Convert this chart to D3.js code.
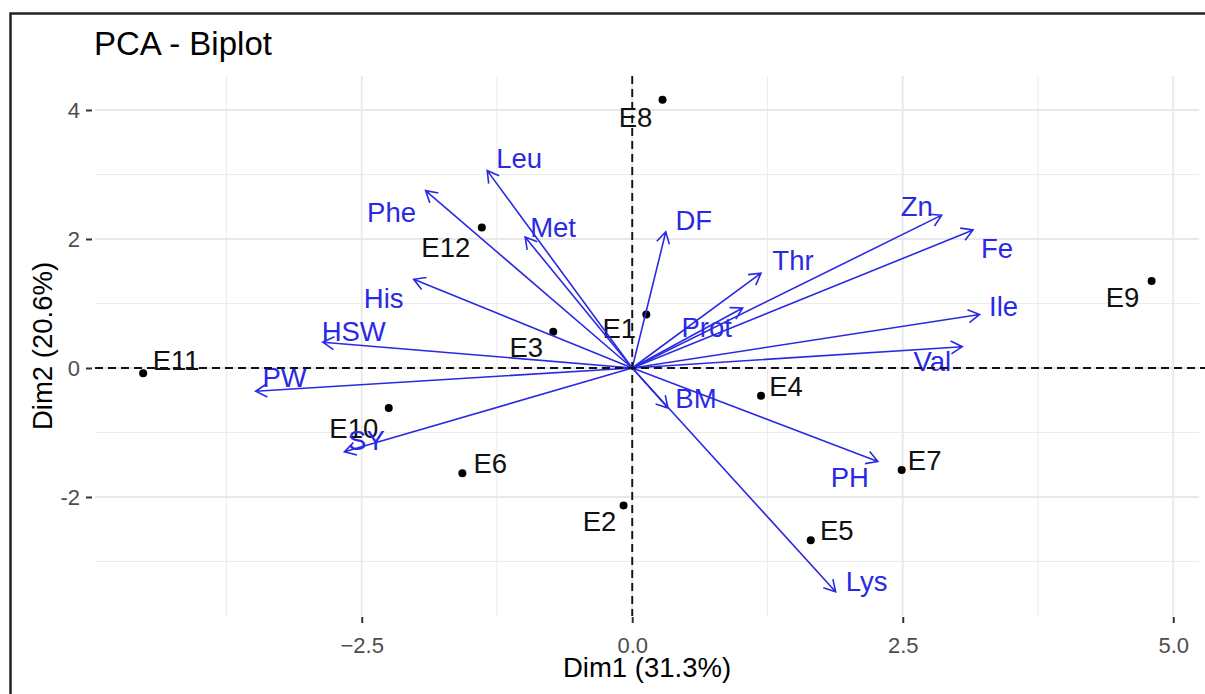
<!DOCTYPE html>
<html>
<head>
<meta charset="utf-8">
<script src="https://cdn.jsdelivr.net/npm/d3@7"></script>
<style>
	body { margin: 0; background: #fff; }
	text { font-family: "Liberation Sans", Arial, sans-serif; }
</style>
</head>
<body>
<svg id="chart" width="1205" height="694"></svg>
<script>
"use strict";

// Individuals (coordinates on Dim1 / Dim2)
var indNames = ["E1", "E2", "E3", "E4", "E5", "E6", "E7", "E8", "E9", "E10", "E11", "E12"];
var indDim1 = [0.13, -0.08, -0.73, 1.19, 1.65, -1.57, 2.49, 0.28, 4.80, -2.25, -4.52, -1.39];
var indDim2 = [0.83, -2.13, 0.56, -0.43, -2.67, -1.63, -1.58, 4.16, 1.35, -0.62, -0.08, 2.18];

// Variables (arrow tips on Dim1 / Dim2)
var varNames = ["Leu", "Phe", "Met", "His", "HSW", "PW", "SY", "DF", "Thr", "Zn", "Fe", "Ile", "Prot", "Val", "BM", "PH", "Lys"];
var varDim1 = [-1.34, -1.91, -0.99, -2.02, -2.86, -3.48, -2.66, 0.31, 1.19, 2.86, 3.15, 3.21, 1.02, 3.05, 0.33, 2.27, 1.88];
var varDim2 = [3.06, 2.75, 2.03, 1.375, 0.40, -0.36, -1.30, 2.11, 1.47, 2.37, 2.14, 0.83, 0.93, 0.33, -0.62, -1.45, -3.47];

var xMajor = [-2.5, 0, 2.5, 5];
var xMinor = [-3.75, -1.25, 1.25, 3.75];
var yMajor = [-2, 0, 2, 4];
var yMinor = [-3, -1, 1, 3];

var titleStr = "PCA - Biplot";
var xTitle = "Dim1 (31.3%)";
var yTitle = "Dim2 (20.6%)";

// repelled label offsets, in pixels from the mark
var indNudge = {
	E1: [-27, 14], E2: [-24, 16], E3: [-27, 15], E4: [25, -10], E5: [26, -10], E6: [28, -10],
	E7: [23, -10], E8: [-27, 17], E9: [-29, 16], E10: [-35, 20], E11: [33, -13], E12: [-36, 20]
};
var varNudge = {
	Leu: [32, -13], Phe: [-34, 21], Met: [28, -10], His: [-30, 19], HSW: [31, -11], PW: [29, -14],
	SY: [22, -12], DF: [28, -12], Thr: [32, -13], Zn: [-25, -9], Fe: [24, 18], Ile: [24, -8],
	Prot: [-36, 19], Val: [-30, 14], BM: [28, -10], PH: [-28, 16], Lys: [31, -11]
};

var panel = { left: 95, top: 76, right: 1199, bottom: 616 };
var blue = "#2a2ae4";

var svg = d3.select("#chart");

svg.append("rect").attr("width", 1205).attr("height", 694).attr("fill", "#fff");

// outer frame (cropped on the right / bottom in the original)
svg.append("rect")
	.attr("x", 10.5).attr("y", 13.5)
	.attr("width", 1300).attr("height", 800)
	.attr("fill", "none").attr("stroke", "#222").attr("stroke-width", 2.5);

var x = d3.scaleLinear().domain([-4.965, 5.238]).range([panel.left, panel.right]);
var y = d3.scaleLinear().domain([-3.845, 4.527]).range([panel.bottom, panel.top]);

// grid
var grid = svg.append("g").attr("class", "grid");
grid.selectAll(".xminor").data(xMinor).enter().append("line")
	.attr("x1", x).attr("x2", x).attr("y1", panel.top).attr("y2", panel.bottom)
	.attr("stroke", "#ececec").attr("stroke-width", 1.1);
grid.selectAll(".yminor").data(yMinor).enter().append("line")
	.attr("y1", y).attr("y2", y).attr("x1", panel.left).attr("x2", panel.right)
	.attr("stroke", "#ececec").attr("stroke-width", 1.1);
grid.selectAll(".xmajor").data(xMajor).enter().append("line")
	.attr("x1", x).attr("x2", x).attr("y1", panel.top).attr("y2", panel.bottom)
	.attr("stroke", "#e8e8e8").attr("stroke-width", 1.8);
grid.selectAll(".ymajor").data(yMajor).enter().append("line")
	.attr("y1", y).attr("y2", y).attr("x1", panel.left).attr("x2", panel.right)
	.attr("stroke", "#e8e8e8").attr("stroke-width", 1.8);

// axes: ticks + labels, drawn with d3.axis then restyled
var xAxis = d3.axisBottom(x).tickValues(xMajor).tickSize(6).tickPadding(14)
	.tickFormat(d3.format(".1f"));
var yAxis = d3.axisLeft(y).tickValues(yMajor).tickSize(6).tickPadding(6)
	.tickFormat(function(d) { return d < 0 ? "-" + Math.abs(d) : d; });

var gx = svg.append("g").attr("transform", "translate(0," + (panel.bottom + 1) + ")").call(xAxis);
var gy = svg.append("g").attr("transform", "translate(" + (panel.left - 3) + ",0)").call(yAxis);

[gx, gy].forEach(function(g) {
	g.select(".domain").remove();
	g.selectAll(".tick line").attr("stroke", "#333").attr("stroke-width", 2);
	g.selectAll(".tick text").attr("fill", "#4d4d4d").attr("font-size", 22)
		.style("font-family", '"Liberation Sans", Arial, sans-serif');
});

// individuals
var inds = indNames.map(function(n, i) { return { name: n, d1: indDim1[i], d2: indDim2[i] }; });

svg.append("g").selectAll("circle").data(inds).enter().append("circle")
	.attr("cx", function(d) { return x(d.d1); })
	.attr("cy", function(d) { return y(d.d2); })
	.attr("r", 4).attr("fill", "#000");

svg.append("g").selectAll("text").data(inds).enter().append("text")
	.attr("x", function(d) { return x(d.d1) + indNudge[d.name][0]; })
	.attr("y", function(d) { return y(d.d2) + indNudge[d.name][1]; })
	.attr("dy", "0.36em").attr("text-anchor", "middle")
	.attr("font-size", 27.5).attr("fill", "#111")
	.text(function(d) { return d.name; });

// variables
var vars = varNames.map(function(n, i) { return { name: n, d1: varDim1[i], d2: varDim2[i] }; });
var ox = x(0), oy = y(0);
var headLen = 13, headAng = Math.PI / 6;

var arrows = svg.append("g").attr("class", "arrows")
	.attr("stroke", blue).attr("stroke-width", 1.6).attr("fill", "none");

arrows.selectAll("path").data(vars).enter().append("path")
	.attr("d", function(d) {
		var tx = x(d.d1), ty = y(d.d2);
		var a = Math.atan2(ty - oy, tx - ox);
		var p = d3.path();
		p.moveTo(ox, oy);
		p.lineTo(tx, ty);
		p.moveTo(tx - headLen * Math.cos(a - headAng), ty - headLen * Math.sin(a - headAng));
		p.lineTo(tx, ty);
		p.lineTo(tx - headLen * Math.cos(a + headAng), ty - headLen * Math.sin(a + headAng));
		return p.toString();
	});

svg.append("g").selectAll("text").data(vars).enter().append("text")
	.attr("x", function(d) { return x(d.d1) + varNudge[d.name][0]; })
	.attr("y", function(d) { return y(d.d2) + varNudge[d.name][1]; })
	.attr("dy", "0.36em").attr("text-anchor", "middle")
	.attr("font-size", 27.5).attr("fill", blue)
	.text(function(d) { return d.name; });

// dashed reference lines on top
svg.append("line")
	.attr("x1", panel.left).attr("x2", 1205).attr("y1", y(0)).attr("y2", y(0))
	.attr("stroke", "#111").attr("stroke-width", 1.9).attr("stroke-dasharray", "8,5");
svg.append("line")
	.attr("x1", x(0)).attr("x2", x(0)).attr("y1", panel.top).attr("y2", panel.bottom)
	.attr("stroke", "#111").attr("stroke-width", 1.9).attr("stroke-dasharray", "8,5");

// titles
svg.append("text").attr("x", 94).attr("y", 55)
	.attr("font-size", 33).attr("fill", "#000").text(titleStr);

svg.append("text").attr("x", (panel.left + panel.right) / 2).attr("y", 677)
	.attr("text-anchor", "middle").attr("font-size", 27.5).attr("fill", "#000").text(xTitle);

svg.append("text")
	.attr("transform", "translate(52," + ((panel.top + panel.bottom) / 2) + ") rotate(-90)")
	.attr("text-anchor", "middle").attr("font-size", 27.5).attr("fill", "#000").text(yTitle);
</script>
</body>
</html>
